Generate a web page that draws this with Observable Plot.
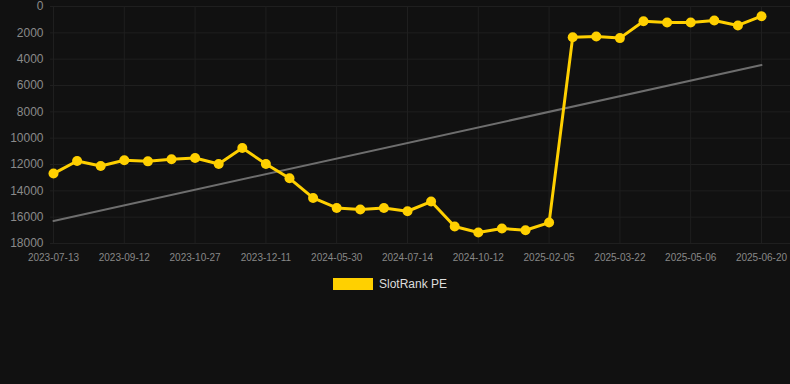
<!DOCTYPE html>
<html><head><meta charset="utf-8">
<script src="https://cdn.jsdelivr.net/npm/d3@7"></script>
<script src="https://cdn.jsdelivr.net/npm/@observablehq/plot@0.6"></script>
<style>
html,body{margin:0;padding:0;background:#111111;}
#chart{width:790px;height:384px;position:relative;font-family:"Liberation Sans",Arial,Helvetica,sans-serif;background:#111111;overflow:hidden;}
#chart svg{display:block;}
.legend{position:absolute;top:278px;left:333px;display:flex;align-items:center;gap:6px;color:#dddddd;font-size:12px;line-height:12px;}
.sw{width:40px;height:12px;background:#ffd000;}
</style></head><body><div id="chart"></div>
<script>
const seriesName = "SlotRank PE";
const rankValues = [12690, 11735, 12115, 11680, 11760, 11605, 11510, 11960, 10750, 11960,
  13050, 14540, 15300, 15420, 15300, 15550, 14815, 16710, 17165, 16860,
  16990, 16410, 2330, 2275, 2400, 1115, 1215, 1215, 1060, 1440, 735];
const tickLabels = ["2023-07-13","2023-09-12","2023-10-27","2023-12-11","2024-05-30","2024-07-14","2024-10-12","2025-02-05","2025-03-22","2025-05-06","2025-06-20"];
const tickEvery = 3;
const yTicks = [0,2000,4000,6000,8000,10000,12000,14000,16000,18000];
const trendValues = [16285, 4450];

const data = rankValues.map((v, i) => ({i, v}));
const lastIdx = rankValues.length - 1;
const trend = [{i: 0, v: trendValues[0]}, {i: lastIdx, v: trendValues[1]}];
const tickIdx = tickLabels.map((_, k) => k * tickEvery);
const gridColor = "#1f1f1f";

const chart = Plot.plot({
  width: 790, height: 270,
  marginLeft: 50, marginRight: 0, marginTop: 6, marginBottom: 27,
  insetLeft: 3, insetRight: 29,
  style: {background: "transparent", color: "#888888", fontFamily: "'Liberation Sans', Arial, sans-serif", fontSize: "10px"},
  x: {type: "linear", domain: [0, lastIdx], label: null},
  y: {domain: [0, 18000], reverse: true, label: null},
  marks: [
    Plot.ruleY(yTicks, {stroke: gridColor, strokeWidth: 1}),
    Plot.ruleX(tickIdx, {stroke: gridColor, strokeWidth: 1}),
    Plot.axisY(yTicks, {tickSize: 0, tickPadding: 7, fontSize: 12, fill: "#8a8a8a", label: null, tickFormat: d => String(d)}),
    Plot.axisX(tickIdx, {tickSize: 0, tickPadding: 10, fontSize: 10, fill: "#888888", label: null, tickFormat: d => tickLabels[d / tickEvery]}),
    Plot.line(trend, {x: "i", y: "v", stroke: "#6e6e6e", strokeWidth: 2}),
    Plot.line(data, {x: "i", y: "v", stroke: "#ffd000", strokeWidth: 3}),
    Plot.dot(data, {x: "i", y: "v", r: 5, fill: "#ffd000", stroke: "none"})
  ]
});
const root = document.getElementById("chart");
root.appendChild(chart);
const lg = document.createElement("div");
lg.className = "legend";
lg.innerHTML = '<div class="sw"></div><span></span>';
lg.querySelector("span").textContent = seriesName;
root.appendChild(lg);
</script>
</body></html>
